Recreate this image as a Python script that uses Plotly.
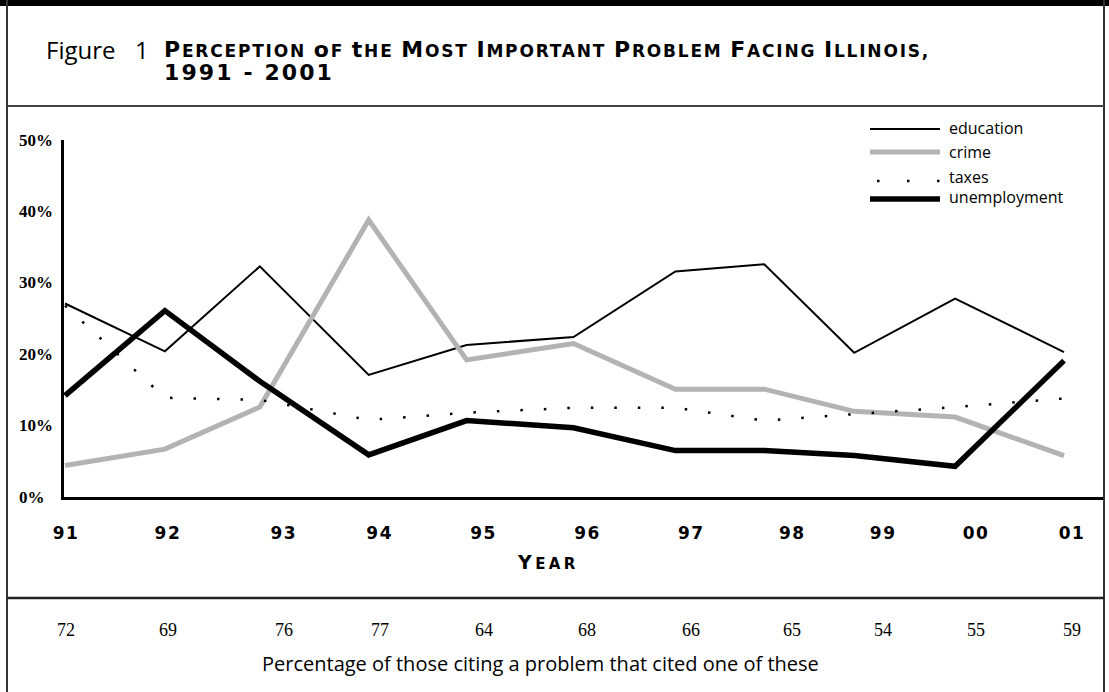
import plotly.graph_objects as go

# ---------------- data ----------------
years = ["91", "92", "93", "94", "95", "96", "97", "98", "99", "00", "01"]
survey_time = [1991.0, 1992.0, 1992.95, 1994.04, 1995.02, 1996.09, 1997.11, 1998.0, 1998.9, 1999.91, 2001.0]
education = [27.1, 20.4, 32.3, 17.1, 21.3, 22.4, 31.6, 32.6, 20.2, 27.8, 20.3]
crime = [4.4, 6.7, 12.6, 38.8, 19.2, 21.5, 15.1, 15.1, 12.0, 11.2, 5.8]
taxes = [26.8, 13.9, 13.6, 10.8, 11.8, 12.5, 12.5, 10.7, 11.6, 12.6, 13.8]
unemployment = [14.2, 26.1, 16.2, 5.9, 10.7, 9.7, 6.5, 6.5, 5.8, 4.3, 19.1]
cited_pct = [72, 69, 76, 77, 64, 68, 66, 65, 54, 55, 59]
y_ticks = [0, 10, 20, 30, 40, 50]
series_names = ["education", "crime", "taxes", "unemployment"]

# where the year labels sit along the time axis (layout)
label_time = [1991.01, 1992.03, 1993.19, 1994.15, 1995.19, 1996.23, 1997.27, 1998.28, 1999.19, 2000.12, 2001.08]

# ---------------- geometry helpers (pixel -> paper) ----------------
W, H = 1109, 692
L, R, T, B = 64, 1104, 140, 497


def px(p):
    return (p - L) / (R - L)


def py(p):
    return (B - p) / (B - T)


def smallcaps(text, big, small, ls):
    words = []
    for w in text.split(" "):
        if not w:
            continue
        first, rest = w[0], w[1:].upper()
        s = f'<span style="font-size:{big}px;letter-spacing:{ls}px">{first}</span>'
        if rest:
            s += f'<span style="font-size:{small}px;letter-spacing:{ls}px">{rest}</span>'
        words.append(s)
    return f'<span style="letter-spacing:{ls}px"> </span>'.join(words)


def spaced(text, ls):
    return f'<span style="letter-spacing:{ls}px">{text}</span>'


BLACK = "#000000"
GRAY = "#b3b3b3"
styles = {
    "education": dict(color=BLACK, width=2),
    "crime": dict(color=GRAY, width=5),
    "taxes": dict(color=BLACK, width=2.5, dash="2.5px,21px"),
    "unemployment": dict(color=BLACK, width=5.5),
}
values = {"education": education, "crime": crime, "taxes": taxes, "unemployment": unemployment}

fig = go.Figure()
for name in series_names:
    fig.add_trace(go.Scatter(x=survey_time, y=values[name], mode="lines", name=name,
                             line=styles[name], showlegend=False))

# x range: 1991 sits on the y axis
x0 = survey_time[0] - 0.01
x1 = x0 + (R - L) / 99.9

fig.update_layout(
    width=W, height=H,
    margin=dict(l=L, r=W - R, t=T, b=H - B, pad=0),
    paper_bgcolor="white", plot_bgcolor="white",
    xaxis=dict(range=[x0, x1], showgrid=False, zeroline=False, showline=True,
               linecolor=BLACK, linewidth=3, tickvals=label_time,
               ticktext=[spaced(y, 1.5) for y in years],
               ticks="", ticklabelstandoff=19,
               tickfont=dict(family="DejaVu Sans", size=17, color=BLACK, weight="bold")),
    yaxis=dict(range=[0, 50], showgrid=False, zeroline=False, showline=True,
               linecolor=BLACK, linewidth=3, showticklabels=False, ticks=""),
)

shapes = []
# frame
shapes.append(dict(type="rect", xref="paper", yref="paper", x0=px(0), x1=px(W), y0=py(0), y1=py(6),
                   fillcolor=BLACK, line=dict(width=0)))
for xx in (7, 1104):
    shapes.append(dict(type="line", xref="paper", yref="paper", x0=px(xx), x1=px(xx), y0=py(0), y1=py(H),
                       line=dict(color="#333333", width=2)))
shapes.append(dict(type="line", xref="paper", yref="paper", x0=px(7), x1=px(1104), y0=py(106), y1=py(106),
                   line=dict(color="#444444", width=2)))
shapes.append(dict(type="line", xref="paper", yref="paper", x0=px(7), x1=px(1104), y0=py(598), y1=py(598),
                   line=dict(color="#222222", width=2.5)))

# legend (drawn)
leg_rows = [("education", 128, 129), ("crime", 152, 152), ("taxes", 177, 181), ("unemployment", 197, 199)]
annotations = []
for name, ty, ly in leg_rows:
    st = dict(styles[name])
    x_start = 870 if name != "taxes" else 877
    x_end = 940
    if name == "taxes":
        st["dash"] = "2.5px,27.5px"
    shapes.append(dict(type="line", xref="paper", yref="paper", x0=px(x_start), x1=px(x_end),
                       y0=py(ly), y1=py(ly), line=st))
    annotations.append(dict(xref="paper", yref="paper", x=px(947), y=py(ty), text=name, showarrow=False,
                            xanchor="left", yanchor="middle",
                            font=dict(family="Open Sans", size=16, color=BLACK)))

fig.update_layout(shapes=shapes)

# y tick labels
for v in y_ticks:
    annotations.append(dict(xref="paper", yref="y", x=px(17), y=v, text=f"{v}%", showarrow=False,
                            xanchor="left", yanchor="middle",
                            font=dict(family="Liberation Serif", size=17, color=BLACK, weight="bold")))

# title
annotations.append(dict(xref="paper", yref="paper", x=px(44), y=py(49), text="Figure", showarrow=False,
                        xanchor="left", yanchor="middle",
                        font=dict(family="Open Sans", size=24, color=BLACK)))
annotations.append(dict(xref="paper", yref="paper", x=px(133), y=py(49), text="1", showarrow=False,
                        xanchor="left", yanchor="middle",
                        font=dict(family="Open Sans", size=24, color=BLACK)))
annotations.append(dict(xref="paper", yref="paper", x=px(162), y=py(49),
                        text="<b>" + smallcaps("Perception of the Most Important Problem Facing Illinois,", 22, 17, 1.8) + "</b>",
                        showarrow=False, xanchor="left", yanchor="middle",
                        font=dict(family="DejaVu Sans", size=17, color=BLACK)))
annotations.append(dict(xref="paper", yref="paper", x=px(162), y=py(72), text="<b>" + spaced("1991 - 2001", 2.1) + "</b>",
                        showarrow=False, xanchor="left", yanchor="middle",
                        font=dict(family="DejaVu Sans", size=22, color=BLACK)))

# axis title
annotations.append(dict(xref="paper", yref="paper", x=px(548), y=py(562),
                        text="<b>" + smallcaps("Year", 19, 15, 3.4) + "</b>", showarrow=False,
                        xanchor="center", yanchor="middle",
                        font=dict(family="DejaVu Sans", size=15, color=BLACK)))

# bottom row of values
for t, v in zip(label_time, cited_pct):
    annotations.append(dict(xref="x", yref="paper", x=t, y=py(630), text=str(v), showarrow=False,
                            xanchor="center", yanchor="middle",
                            font=dict(family="Liberation Serif", size=18, color=BLACK)))
annotations.append(dict(xref="paper", yref="paper", x=px(540), y=py(663),
                        text="Percentage of those citing a problem that cited one of these", showarrow=False,
                        xanchor="center", yanchor="middle",
                        font=dict(family="Open Sans", size=20, color=BLACK)))

fig.update_layout(annotations=annotations)
fig.write_html("out.html", config={"displayModeBar": False},
               post_script="document.body.style.margin='0px';")
